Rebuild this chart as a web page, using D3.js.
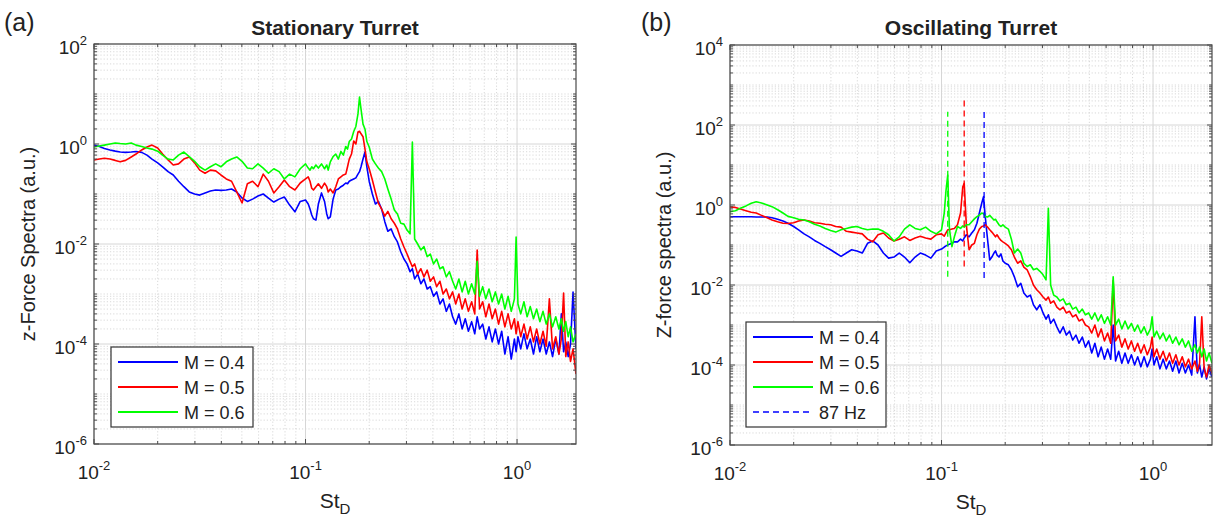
<!DOCTYPE html>
<html>
<head>
<meta charset="utf-8">
<script src="https://d3js.org/d3.v7.min.js"></script>
<style>
  body { margin: 0; background: #fff; }
  text { font-family: "Liberation Sans", Arial, sans-serif; fill: #222; }
</style>
</head>
<body>
<svg id="chart" width="1216" height="523"></svg>
<script>
// Strouhal numbers shared by every spectrum
const stGrid = [
  0.0100, 0.0106, 0.0112, 0.0119, 0.0126, 0.0133, 0.0141, 0.0150, 0.0158, 0.0168,
  0.0178, 0.0188, 0.0200, 0.0211, 0.0224, 0.0237, 0.0251, 0.0266, 0.0282, 0.0299,
  0.0316, 0.0335, 0.0355, 0.0376, 0.0398, 0.0422, 0.0447, 0.0473, 0.0501, 0.0531,
  0.0562, 0.0596, 0.0631, 0.0668, 0.0708, 0.0750, 0.0794, 0.0841, 0.0891, 0.0944,
  0.100, 0.103, 0.105, 0.107, 0.109, 0.112, 0.115, 0.119, 0.123, 0.126, 0.128, 0.131, 0.135, 0.139, 0.143,
  0.147, 0.151, 0.155, 0.158, 0.161, 0.165, 0.169, 0.173, 0.177, 0.180, 0.183, 0.187, 0.191, 0.195,
  0.200, 0.207, 0.214, 0.221, 0.229, 0.237, 0.245, 0.254, 0.263, 0.272, 0.282, 0.292, 0.302, 0.312,
  0.320, 0.328, 0.339, 0.351, 0.363, 0.376, 0.389, 0.403, 0.417, 0.432, 0.447, 0.463, 0.479, 0.496,
  0.513, 0.531, 0.550, 0.569, 0.589, 0.610, 0.631, 0.648, 0.665, 0.688, 0.712, 0.737, 0.763, 0.790,
  0.818, 0.846, 0.876, 0.907, 0.939, 0.972, 0.990, 1.010, 1.041, 1.078, 1.116, 1.155, 1.196, 1.238,
  1.282, 1.327, 1.374, 1.422, 1.472, 1.524, 1.578, 1.620, 1.660, 1.700, 1.745, 1.790, 1.840, 1.900
];

// (a) stationary turret
const stationaryM04 = [
  0.95, 0.89, 0.81, 0.76, 0.72, 0.69, 0.68, 0.69, 0.71, 0.68, 0.6, 0.5, 0.42, 0.35, 0.28, 0.24, 0.18, 0.14, 0.11, 0.1,
  0.095, 0.105, 0.115, 0.12, 0.118, 0.12, 0.126, 0.11, 0.083, 0.071, 0.079, 0.091, 0.1, 0.083, 0.069, 0.079, 0.087, 0.06, 0.044, 0.071,
  0.076, 0.063, 0.05, 0.038, 0.032, 0.03, 0.063, 0.105, 0.071, 0.04, 0.032, 0.035, 0.079, 0.12, 0.126, 0.14, 0.15, 0.166, 0.16, 0.18,
  0.19, 0.2, 0.21, 0.25, 0.28, 0.35, 0.5, 0.69, 0.35,
  0.18, 0.1, 0.063, 0.071, 0.05, 0.028, 0.018, 0.02, 0.014, 0.011, 7e-3, 5e-3, 4e-3, 2.8e-3, 3.2e-3, 2e-3, 2.5e-3, 1.6e-3, 2e-3, 1.26e-3,
  1.4e-3, 9e-4, 1.1e-3, 6.3e-4, 8e-4, 4.5e-4, 6.3e-4, 3.5e-4,
  2.5e-4, 4e-4, 2e-4, 3.2e-4, 1.8e-4, 2.8e-4, 1.6e-4, 3.5e-4, 2e-4, 2.5e-4, 1.26e-4, 2.2e-4, 1.1e-4, 2e-4, 1e-4, 1.8e-4, 6.3e-5, 1.4e-4, 5e-5, 1.26e-4,
  7e-5, 1.4e-4, 8e-5, 1.6e-4, 8e-5, 1.26e-4, 6.3e-5, 1.4e-4, 7e-5, 1.26e-4, 6.3e-5, 1.1e-4, 5.6e-5, 1.26e-4, 6.3e-5, 4e-4, 7e-5, 1.1e-4, 5.6e-5, 1e-4,
  1.1e-3, 8e-5
];
const stationaryM05 = [
  0.48, 0.5, 0.52, 0.5, 0.47, 0.44, 0.47, 0.55, 0.63, 0.76, 0.87, 0.95, 0.83, 0.63, 0.48, 0.38, 0.4, 0.5, 0.55, 0.42,
  0.3, 0.26, 0.3, 0.29, 0.24, 0.2, 0.18, 0.11, 0.066, 0.16, 0.18, 0.14, 0.25, 0.18, 0.105, 0.14, 0.19, 0.14, 0.12, 0.166,
  0.2, 0.22, 0.18, 0.13, 0.12, 0.14, 0.16, 0.13, 0.165, 0.14, 0.11, 0.126, 0.105, 0.14, 0.2, 0.22, 0.24, 0.25, 0.35, 0.5,
  0.63, 1.15, 1.0, 1.74, 1.8, 1.6, 1.4, 0.8, 0.44,
  0.32, 0.19, 0.11, 0.066, 0.05, 0.036, 0.045, 0.032, 0.026, 0.02, 0.0126, 8.7e-3, 6.3e-3, 4.5e-3, 3.5e-3, 4e-3, 2.5e-3, 3.2e-3, 2.2e-3, 3e-3,
  1.8e-3, 2.2e-3, 1.4e-3, 1.8e-3, 1e-3, 1.26e-3, 8e-4, 1.1e-3,
  6.3e-4, 1e-3, 5e-4, 8e-4, 4.5e-4, 7e-4, 4e-4, 7.6e-3, 5e-4, 7e-4, 3.5e-4, 6.3e-4, 3.2e-4, 5e-4, 2.5e-4, 4.5e-4, 2.2e-4, 4e-4, 2e-4, 3.2e-4,
  1.6e-4, 2.8e-4, 1.4e-4, 2.5e-4, 1.26e-4, 2.2e-4, 1.1e-4, 2e-4, 1e-4, 1.8e-4, 9e-5, 8e-4, 8e-5, 1.4e-4, 6.3e-5, 1.26e-4, 1.05e-3, 5.6e-5, 1.1e-4, 4.5e-5,
  8e-5, 2.5e-5
];
const stationaryM06 = [
  0.87, 0.91, 0.95, 1.0, 1.05, 1.02, 1.0, 1.05, 0.95, 0.89, 0.83, 0.79, 0.72, 0.6, 0.5, 0.48, 0.6, 0.69, 0.56, 0.45,
  0.35, 0.3, 0.35, 0.4, 0.35, 0.44, 0.5, 0.55, 0.45, 0.33, 0.32, 0.4, 0.33, 0.26, 0.32, 0.28, 0.2, 0.25, 0.22, 0.32,
  0.4, 0.33, 0.3, 0.35, 0.32, 0.38, 0.33, 0.4, 0.32, 0.38, 0.3, 0.44, 0.56, 0.63, 0.5, 0.71, 0.6, 0.89, 0.79, 1.12,
  1.26, 1.78, 2.24, 4, 8.7, 5, 2.5, 2, 1.12,
  0.87, 0.5, 0.4, 0.33, 0.28, 0.2, 0.126, 0.079, 0.048, 0.04, 0.026, 0.025, 0.019, 0.016, 1.1, 0.0126, 0.01, 7.6e-3, 8.9e-3, 5.6e-3,
  6.3e-3, 4e-3, 5e-3, 3.2e-3, 3.5e-3, 2.2e-3, 2.8e-3, 1.8e-3,
  1.26e-3, 2e-3, 1.1e-3, 1.8e-3, 1e-3, 1.6e-3, 1e-3, 4.5e-3, 9e-4, 1.4e-3, 8e-4, 1.26e-3, 7e-4, 1.1e-3, 6.3e-4, 1e-3, 5e-4, 9e-4, 4.5e-4, 8e-4,
  0.0138, 6.3e-4, 4e-4, 7e-4, 3.5e-4, 5.6e-4, 3.2e-4, 5e-4, 2.8e-4, 4.5e-4, 2.5e-4, 4e-4, 2.2e-4, 3.5e-4, 2e-4, 3.2e-4, 1.8e-4, 2.8e-4, 1.4e-4, 2.2e-4,
  1.1e-4, 1.6e-4
];

// (b) oscillating turret
const oscillatingM04 = [
  0.51, 0.51, 0.51, 0.51, 0.51, 0.5, 0.5, 0.5, 0.48, 0.44, 0.4, 0.35, 0.29, 0.24, 0.19, 0.16, 0.13, 0.11, 0.091, 0.076,
  0.063, 0.052, 0.063, 0.076, 0.071, 0.063, 0.11, 0.126, 0.1, 0.063, 0.047, 0.05, 0.063, 0.05, 0.036, 0.05, 0.063, 0.056, 0.047, 0.071,
  0.079, 0.089, 0.095, 0.1, 0.105, 0.11, 0.12, 0.12, 0.14, 0.126, 0.15, 0.18, 0.16, 0.2, 0.24, 0.35, 0.63, 1.12, 1.62, 0.5,
  0.14, 0.042, 0.05, 0.063, 0.071, 0.056, 0.05, 0.06, 0.04,
  0.035, 0.032, 0.024, 0.016, 9e-3, 0.011, 6.3e-3, 5e-3, 5.6e-3, 3.2e-3, 2.4e-3, 3.2e-3, 2e-3, 1.4e-3, 1.8e-3, 1.1e-3, 1.4e-3, 9e-4, 6.3e-4, 9e-4,
  5.6e-4, 7e-4, 4.2e-4, 5.6e-4, 3.5e-4, 5e-4, 2.8e-4, 4e-4,
  2e-4, 3.5e-4, 1.6e-4, 2.8e-4, 1.4e-4, 2.5e-4, 1.4e-4, 1e-3, 1.26e-4, 2.2e-4, 1.1e-4, 2e-4, 1.1e-4, 1.8e-4, 1e-4, 1.6e-4, 9e-5, 1.6e-4, 9e-5, 1.4e-4,
  2.5e-4, 1e-4, 1.6e-4, 8e-5, 1.4e-4, 8e-5, 1.26e-4, 7e-5, 1.26e-4, 6.3e-5, 1.1e-4, 6.3e-5, 1e-4, 5.6e-5, 1.6e-3, 6.3e-5, 1e-4, 5e-5, 9e-5, 4.5e-5,
  8e-5, 5e-5
];
const oscillatingM05 = [
  0.89, 0.87, 0.79, 0.72, 0.66, 0.63, 0.55, 0.48, 0.42, 0.38, 0.35, 0.345, 0.36, 0.4, 0.42, 0.4, 0.36, 0.35, 0.33, 0.32,
  0.29, 0.28, 0.22, 0.21, 0.2, 0.19, 0.14, 0.12, 0.18, 0.2, 0.15, 0.126, 0.14, 0.16, 0.13, 0.15, 0.166, 0.15, 0.14, 0.18,
  0.19, 0.166, 0.2, 0.24, 0.24, 0.25, 0.26, 0.32, 0.63, 2.8, 3.5, 0.32, 0.076, 0.1, 0.11, 0.18, 0.25, 0.29, 0.3, 0.32,
  0.28, 0.24, 0.21, 0.18, 0.16, 0.18, 0.15, 0.13, 0.12,
  0.11, 0.095, 0.076, 0.05, 0.035, 0.04, 0.028, 0.024, 0.016, 0.01, 7.6e-3, 6.3e-3, 5e-3, 4.2e-3, 5e-3, 3.5e-3, 4e-3, 2.8e-3, 2.4e-3, 2.8e-3,
  2e-3, 2.2e-3, 1.6e-3, 1.8e-3, 1.26e-3, 1.4e-3, 1e-3, 9e-4,
  6.3e-4, 1e-3, 5e-4, 8e-4, 4e-4, 6.3e-4, 3.5e-4, 0.013, 4e-4, 5.6e-4, 2.8e-4, 4.5e-4, 2.5e-4, 4e-4, 2.2e-4, 3.5e-4, 2e-4, 3.2e-4, 1.8e-4, 2.8e-4,
  5e-4, 1.6e-4, 2.5e-4, 1.4e-4, 2.2e-4, 1.26e-4, 2e-4, 1.1e-4, 1.8e-4, 1e-4, 1.6e-4, 9e-5, 1.4e-4, 8e-5, 1.26e-4, 7e-5, 1.1e-4, 1.6e-3, 8e-5, 5e-5,
  1e-4, 6.3e-5
];
const oscillatingM06 = [
  0.68, 0.72, 0.83, 0.95, 1.1, 1.2, 1.12, 1.0, 0.91, 0.76, 0.63, 0.52, 0.48, 0.44, 0.42, 0.38, 0.33, 0.3, 0.26, 0.23,
  0.21, 0.24, 0.26, 0.28, 0.29, 0.26, 0.24, 0.25, 0.25, 0.22, 0.18, 0.126, 0.16, 0.25, 0.32, 0.26, 0.24, 0.28, 0.22, 0.19,
  0.24, 0.63, 2.3, 5.6, 0.25, 0.091, 0.16, 0.29, 0.26, 0.3, 0.28, 0.32, 0.32, 0.38, 0.45, 0.51, 0.56, 0.63, 0.6, 0.52,
  0.5, 0.55, 0.48, 0.42, 0.44, 0.38, 0.32, 0.29, 0.32,
  0.28, 0.25, 0.14, 0.063, 0.079, 0.063, 0.035, 0.029, 0.032, 0.024, 0.026, 0.022, 0.018, 0.0135, 0.83, 0.01, 5.6e-3, 5e-3, 4e-3, 4.5e-3,
  3.2e-3, 3.5e-3, 2.5e-3, 2.8e-3, 2e-3, 2.5e-3, 1.8e-3, 2e-3,
  1.4e-3, 2e-3, 1.26e-3, 1.8e-3, 1.1e-3, 1.6e-3, 1e-3, 0.016, 1e-3, 1.4e-3, 8e-4, 1.26e-3, 8e-4, 1.1e-3, 7e-4, 1e-3, 6.3e-4, 9e-4, 5.6e-4, 8e-4,
  1.6e-3, 5e-4, 7e-4, 4.5e-4, 6.3e-4, 4e-4, 5.6e-4, 3.5e-4, 5e-4, 3.2e-4, 4.5e-4, 2.8e-4, 4e-4, 2.2e-4, 3.2e-4, 2e-4, 2.8e-4, 1.6e-4, 2.5e-4, 1.26e-4,
  2e-4, 1.1e-4
];

// forcing frequency (87 Hz) markers, one per Mach number: St, bottom, top
const forcingSt = [0.159, 0.128, 0.107];
const forcingLow = [0.015, 0.029, 0.016];
const forcingHigh = [214, 420, 214];

const machLabels = ["M = 0.4", "M = 0.5", "M = 0.6"];
const forcingLabel = "87 Hz";
const lineColors = ["#0000ff", "#ff0000", "#00ff00"];
const xTicks = [0.01, 0.1, 1];
const yTicksA = [1e-6, 1e-4, 1e-2, 1, 1e2];
const yTicksB = [1e-6, 1e-4, 1e-2, 1, 1e2, 1e4];

const svg = d3.select("#chart");
const axisColor = "#4a4a4a";

function powLabel(sel, v) {
  sel.text("10");
  sel.append("tspan").attr("dy", -9).attr("font-size", 13).text(Math.round(Math.log10(v)));
}

// 2..9 x 10^n inside [lo, hi]
function minorPositions(lo, hi) {
  const out = [];
  for (let e = Math.floor(Math.log10(lo)); e <= Math.ceil(Math.log10(hi)); e++) {
    for (let k = 1; k <= 9; k++) {
      const v = k * Math.pow(10, e);
      if (v >= lo * 0.999 && v <= hi * 1.001 && k > 1) out.push(v);
      if (k === 1 && v > lo * 1.001 && v < hi * 0.999 && e % 2 !== 0) out.push(v);
    }
  }
  return out;
}

function drawPanel(p) {
  const yLo = p.yTicks[0], yHi = p.yTicks[p.yTicks.length - 1];
  const x = d3.scaleLog().domain([0.01, 1.9]).range([p.left, p.left + p.width]);
  const y = d3.scaleLog().domain([yLo, yHi]).range([p.top + p.height, p.top]);
  const g = svg.append("g");
  const x0 = p.left, x1 = p.left + p.width, y0 = p.top, y1 = p.top + p.height;

  g.append("clipPath").attr("id", "clip-" + p.id).append("rect")
    .attr("x", x0).attr("y", y0).attr("width", p.width).attr("height", p.height);

  const xMinor = minorPositions(0.01, 1.9).filter(v => Math.abs(v - 0.1) > 1e-9 && Math.abs(v - 1) > 1e-9);
  const yMinor = minorPositions(yLo, yHi);

  // minor grid
  g.selectAll("line.xminor").data(xMinor).join("line")
    .attr("x1", d => x(d)).attr("x2", d => x(d)).attr("y1", y0).attr("y2", y1)
    .attr("stroke", "#c8c8c8").attr("stroke-width", 0.7).attr("stroke-dasharray", "1.2,2");
  g.selectAll("line.yminor").data(yMinor).join("line")
    .attr("x1", x0).attr("x2", x1).attr("y1", d => y(d)).attr("y2", d => y(d))
    .attr("stroke", "#c8c8c8").attr("stroke-width", 0.7).attr("stroke-dasharray", "1.2,2");
  // major grid
  g.selectAll("line.xmajor").data(xTicks).join("line")
    .attr("x1", d => x(d)).attr("x2", d => x(d)).attr("y1", y0).attr("y2", y1)
    .attr("stroke", "#d6d6d6").attr("stroke-width", 1);
  g.selectAll("line.ymajor").data(p.yTicks).join("line")
    .attr("x1", x0).attr("x2", x1).attr("y1", d => y(d)).attr("y2", d => y(d))
    .attr("stroke", "#d6d6d6").attr("stroke-width", 1);

  // spectra
  const line = d3.line().x((d, i) => x(stGrid[i])).y(d => y(d));
  g.append("g").attr("clip-path", `url(#clip-${p.id})`)
    .selectAll("path").data(p.series).join("path")
    .attr("d", d => line(d))
    .attr("fill", "none")
    .attr("stroke", (d, i) => lineColors[i])
    .attr("stroke-width", 1.6)
    .attr("stroke-linejoin", "round");

  // forcing markers
  if (p.forcing) {
    g.selectAll("line.forcing").data(forcingSt).join("line")
      .attr("x1", d => x(d)).attr("x2", d => x(d))
      .attr("y1", (d, i) => y(forcingLow[i])).attr("y2", (d, i) => y(forcingHigh[i]))
      .attr("stroke", (d, i) => lineColors[i])
      .attr("stroke-width", 1.3)
      .attr("stroke-dasharray", "6,4");
  }

  // box
  g.append("rect").attr("x", x0).attr("y", y0).attr("width", p.width).attr("height", p.height)
    .attr("fill", "none").attr("stroke", axisColor).attr("stroke-width", 1.2);

  // ticks on all sides, pointing in
  const tickData = [];
  xTicks.forEach(v => tickData.push({ x: x(v), len: 5, horiz: false }));
  xMinor.forEach(v => tickData.push({ x: x(v), len: 3, horiz: false }));
  p.yTicks.forEach(v => tickData.push({ y: y(v), len: 5, horiz: true }));
  yMinor.forEach(v => tickData.push({ y: y(v), len: 3, horiz: true }));
  tickData.forEach(t => {
    if (t.horiz) {
      g.append("line").attr("x1", x0).attr("x2", x0 + t.len).attr("y1", t.y).attr("y2", t.y).attr("stroke", axisColor);
      g.append("line").attr("x1", x1).attr("x2", x1 - t.len).attr("y1", t.y).attr("y2", t.y).attr("stroke", axisColor);
    } else {
      g.append("line").attr("y1", y1).attr("y2", y1 - t.len).attr("x1", t.x).attr("x2", t.x).attr("stroke", axisColor);
      g.append("line").attr("y1", y0).attr("y2", y0 + t.len).attr("x1", t.x).attr("x2", t.x).attr("stroke", axisColor);
    }
  });

  // tick labels
  g.selectAll("text.xt").data(xTicks).join("text")
    .attr("x", d => x(d)).attr("y", y1 + 35)
    .attr("text-anchor", "middle").attr("font-size", 19)
    .each(function(d) { powLabel(d3.select(this), d); });
  g.selectAll("text.yt").data(p.yTicks).join("text")
    .attr("x", x0 - 7).attr("y", d => y(d) + 10)
    .attr("text-anchor", "end").attr("font-size", 19)
    .each(function(d) { powLabel(d3.select(this), d); });

  // axis labels and title
  const xl = g.append("text").attr("x", (x0 + x1) / 2).attr("y", y1 + 64)
    .attr("text-anchor", "middle").attr("font-size", 21).text("St");
  xl.append("tspan").attr("dy", 6).attr("font-size", 15).text("D");

  g.append("text")
    .attr("transform", `translate(${x0 - 59},${(y0 + y1) / 2}) rotate(-90)`)
    .attr("text-anchor", "middle").attr("font-size", 20).text(p.ylabel);

  g.append("text").attr("x", (x0 + x1) / 2).attr("y", 35)
    .attr("text-anchor", "middle").attr("font-size", 21).attr("font-weight", "bold").text(p.title);

  g.append("text").attr("x", p.tag.x).attr("y", 31).attr("font-size", 25).text(p.tag.text);

  // legend
  const lg = p.legend;
  const labels = machLabels.slice();
  if (p.forcing) labels.push(forcingLabel);
  g.append("rect").attr("x", lg.x).attr("y", lg.y).attr("width", lg.w).attr("height", labels.length * 25 + 5)
    .attr("fill", "#fff").attr("stroke", "#333").attr("stroke-width", 1.2);
  labels.forEach((lab, i) => {
    const ry = lg.y + 15 + i * 25;
    g.append("line").attr("x1", lg.x + 7).attr("x2", lg.x + 67).attr("y1", ry).attr("y2", ry)
      .attr("stroke", lineColors[i < 3 ? i : 0])
      .attr("stroke-width", i < 3 ? 1.8 : 1.3)
      .attr("stroke-dasharray", i < 3 ? null : "6,4");
    g.append("text").attr("x", lg.x + 73).attr("y", ry + 7).attr("font-size", 18).text(lab);
  });
}

drawPanel({
  id: "a", left: 94, top: 44, width: 482, height: 400,
  yTicks: yTicksA, series: [stationaryM04, stationaryM05, stationaryM06],
  title: "Stationary Turret", ylabel: "z-Force Spectra (a.u.)",
  tag: { x: 4, text: "(a)" }, legend: { x: 111, y: 347, w: 142 }, forcing: false
});
drawPanel({
  id: "b", left: 730, top: 45, width: 482, height: 400,
  yTicks: yTicksB, series: [oscillatingM04, oscillatingM05, oscillatingM06],
  title: "Oscillating Turret", ylabel: "Z-force spectra (a.u.)",
  tag: { x: 641, text: "(b)" }, legend: { x: 746, y: 322, w: 140 }, forcing: true
});
</script>
</body>
</html>
